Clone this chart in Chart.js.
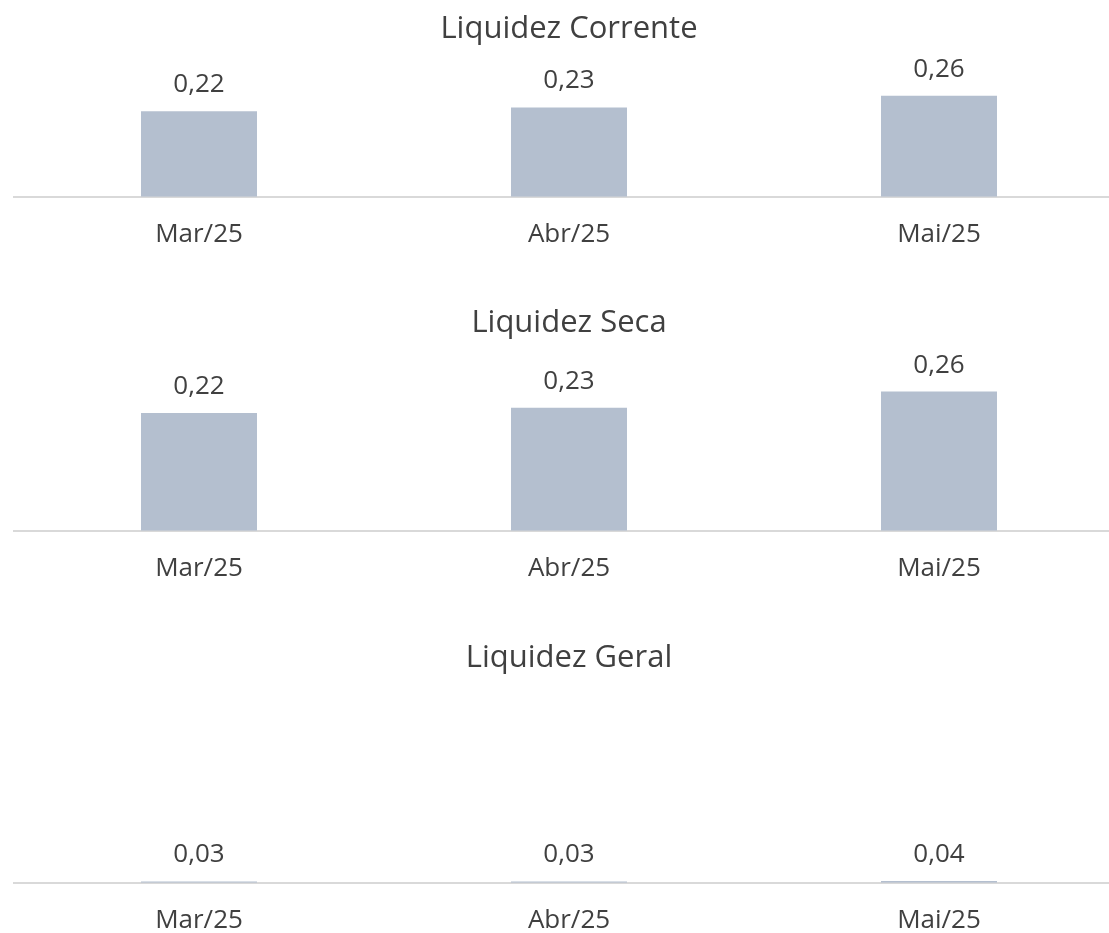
<!DOCTYPE html>
<html lang="pt-BR">
<head>
    <meta charset="UTF-8">
    <title>Indicadores de Liquidez</title>
    <script src="https://cdn.jsdelivr.net/npm/chart.js"></script>
    <style>
        body {
            margin: 0;
            background-color: white;
            overflow: hidden;
            font-family: 'Open Sans', sans-serif;
        }
        .chart-box {
            position: absolute;
            left: 0;
            width: 1124px;
        }
    </style>
</head>
<body>
    <div class="chart-box" style="top:0px;height:290px"><canvas id="chartCorrente"></canvas></div>
    <div class="chart-box" style="top:290px;height:330px"><canvas id="chartSeca"></canvas></div>
    <div class="chart-box" style="top:620px;height:338px"><canvas id="chartGeral"></canvas></div>

    <script>
        const months = ['Mar/25', 'Abr/25', 'Mai/25'];
        const liquidezCorrente = [0.22, 0.23, 0.26];
        const liquidezSeca = [0.22, 0.23, 0.26];
        const liquidezGeral = [0.03, 0.03, 0.04];

        const textColor = '#404040';
        const barColor = '#B4BFCF';

        // writes the value above each bar, with a decimal comma
        const valueLabels = {
            id: 'valueLabels',
            afterDatasetsDraw(chart) {
                const ctx = chart.ctx;
                const meta = chart.getDatasetMeta(0);
                ctx.save();
                ctx.font = '26px "Open Sans"';
                ctx.fillStyle = textColor;
                ctx.textAlign = 'center';
                ctx.textBaseline = 'alphabetic';
                meta.data.forEach((bar, i) => {
                    const v = chart.data.datasets[0].data[i];
                    ctx.fillText(v.toFixed(2).replace('.', ','), bar.x, bar.y - 19);
                });
                ctx.restore();
            }
        };

        function makeChart(id, title, values, yMax, pad) {
            return new Chart(document.getElementById(id), {
                type: 'bar',
                data: {
                    labels: months,
                    datasets: [{
                        data: values,
                        backgroundColor: barColor,
                        categoryPercentage: 1,
                        barPercentage: 0.3135
                    }]
                },
                options: {
                    responsive: true,
                    maintainAspectRatio: false,
                    animation: false,
                    layout: { padding: { left: 14, right: 0, top: 0, bottom: pad.bottom } },
                    plugins: {
                        legend: { display: false },
                        tooltip: { enabled: false },
                        title: {
                            display: true,
                            text: title,
                            color: textColor,
                            font: { family: 'Open Sans', size: 31, weight: 'normal' },
                            padding: { top: pad.titleTop, bottom: pad.titleBottom }
                        }
                    },
                    scales: {
                        x: {
                            grid: { display: false, drawTicks: false },
                            border: { color: '#D9D9D9', width: 2 },
                            ticks: {
                                color: textColor,
                                font: { family: 'Open Sans', size: 26 },
                                padding: 22
                            }
                        },
                        y: {
                            display: false,
                            min: 0,
                            max: yMax
                        }
                    }
                },
                plugins: [valueLabels]
            });
        }

        makeChart('chartCorrente', 'Liquidez Corrente', liquidezCorrente, 0.3, { titleTop: 11, titleBottom: 32, bottom: 18 });
        makeChart('chartSeca', 'Liquidez Seca', liquidezSeca, 0.3, { titleTop: 15, titleBottom: 28, bottom: 14 });
        makeChart('chartGeral', 'Liquidez Geral', liquidezGeral, 4, { titleTop: 20, titleBottom: 23, bottom: 0 });
    </script>
</body>
</html>
